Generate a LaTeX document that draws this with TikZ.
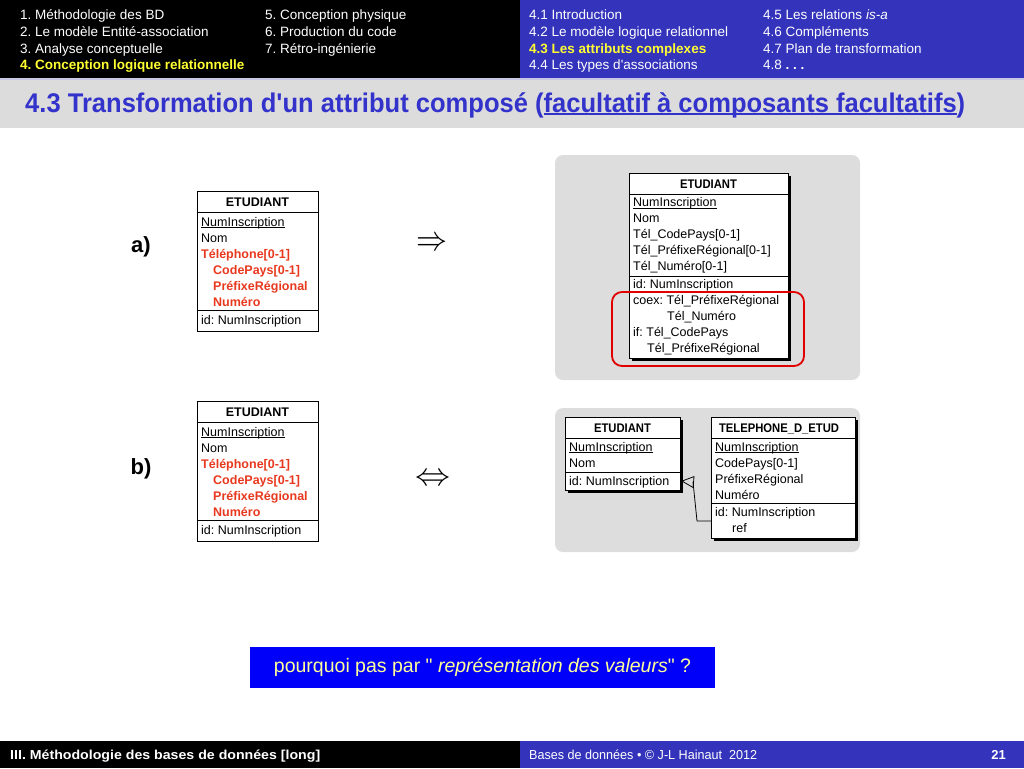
\documentclass[tikz,border=0pt]{standalone}
\usepackage{fontspec}
\setmainfont{Liberation Sans}[Ligatures=TeXOff]
\usepackage{graphicx}
\usetikzlibrary{arrows.meta}
\definecolor{hdrblue}{RGB}{51,51,187}
\definecolor{hiyellow}{RGB}{255,255,51}
\definecolor{sepcol}{RGB}{200,200,228}
\definecolor{titlegray}{RGB}{220,220,220}
\definecolor{titleblue}{RGB}{51,51,204}
\definecolor{panelgray}{RGB}{221,221,221}
\definecolor{attrred}{RGB}{232,56,30}
\definecolor{hlred}{RGB}{225,0,0}
\definecolor{qblue}{RGB}{0,0,250}
\definecolor{qyellow}{RGB}{255,255,153}
\newcommand\myul[1]{\setbox0\hbox{#1}\rlap{\rule[-2pt]{\wd0}{0.6pt}}\box0}
\newcommand\myulb[1]{\setbox0\hbox{#1}\rlap{\rule[-3pt]{\wd0}{1.6pt}}\box0}
\frenchspacing
\begin{document}
\begin{tikzpicture}[x=1pt,y=-1pt,
  hdr/.style={anchor=base west, inner sep=0, text=white, font=\fontsize{13.5}{16}\selectfont},
  hdrsel/.style={hdr, text=hiyellow, font=\fontsize{13.5}{16}\selectfont\bfseries},
  attr/.style={anchor=base west, inner sep=0, font=\fontsize{12.5}{16}\selectfont},
  redattr/.style={attr, text=attrred, font=\fontsize{12.5}{16}\selectfont\bfseries},
  thead/.style={anchor=base, inner sep=0, font=\fontsize{12.5}{16}\selectfont\bfseries},
  tbox/.style={draw=black, line width=1pt, fill=white, anchor=north west, inner sep=0},
  shadowbox/.style={fill=black, anchor=north west, inner sep=0},
  sepline/.style={line width=1pt},
  bigsym/.style={inner sep=0, font=\fontsize{10}{10}\selectfont},
  lbl/.style={inner sep=0, font=\fontsize{22}{24}\selectfont\bfseries},
  foot/.style={anchor=base west, inner sep=0, text=white, font=\fontsize{13}{15}\selectfont}
]
\useasboundingbox (0,0) rectangle (1024,768);
% header
\fill[black] (0,0) rectangle (520,78);
\fill[hdrblue] (520,0) rectangle (1024,78);
\fill[sepcol] (0,78) rectangle (1024,80);
\node[hdr] (h1) at (20,19.5) {1. Méthodologie des BD};
\node[hdr] (h2) at (20,36.5) {2. Le modèle Entité-association};
\node[hdr] (h3) at (20,53) {3. Analyse conceptuelle};
\node[hdrsel] (h4) at (20,70) {4. Conception logique relationnelle};
\node[hdr] (h5) at (265,19.5) {5. Conception physique};
\node[hdr] (h6) at (265,36.5) {6. Production du code};
\node[hdr] (h7) at (265,53) {7. Rétro-ingénierie};
\node[hdr] (s1) at (529,19.5) {4.1 Introduction};
\node[hdr] (s2) at (529,36.5) {4.2 Le modèle logique relationnel};
\node[hdrsel] (s3) at (529,53) {4.3 Les attributs complexes};
\node[hdr] (s4) at (529,70) {4.4 Les types d'associations};
\node[hdr] (s5) at (763,19.5) {4.5 Les relations \textit{is-a}};
\node[hdr] (s6) at (763,36.5) {4.6 Compléments};
\node[hdr] (s7) at (763,53) {4.7 Plan de transformation};
\node[hdr] (s8) at (763,70) {4.8 \textbf{. . .}};
% title
\fill[titlegray] (0,80) rectangle (1024,128);
\node[anchor=base west, inner sep=0, text=titleblue] (title) at (25,112)
  {\resizebox{940pt}{\height}{\fontsize{27}{30}\selectfont\bfseries 4.3 Transformation d'un attribut composé (\myulb{facultatif à composants facultatifs})}};

% ---------- a) left table
\node[lbl] (la) at (141,247) {a)};
\node[tbox, minimum width=121pt, minimum height=140pt] (A) at (197,191) {};
\draw[sepline] (A.west |- 0,212) -- (A.east |- 0,212);
\draw[sepline] (A.west |- 0,310) -- (A.east |- 0,310);
\node[thead] (Ah) at (257.5,206.5) {ETUDIANT};
\node[attr] (Ar1) at (201,226) {\myul{NumInscription}};
\node[attr] (Ar2) at (201,242) {Nom};
\node[redattr] (Ar3) at (201,258) {Téléphone[0-1]};
\node[redattr] (Ar4) at (213,274) {CodePays[0-1]};
\node[redattr] (Ar5) at (213,290) {PréfixeRégional};
\node[redattr] (Ar6) at (213,306) {Numéro};
\node[attr] (Ar7) at (201,324.5) {id: NumInscription};

\node[bigsym] (imp) at (432,244) {\scalebox{3.1}[3.5]{$\Rightarrow$}};

% a) right panel
\fill[panelgray, rounded corners=8pt] (555,155) rectangle (860,380);
\node[shadowbox, minimum width=159pt, minimum height=185pt] (ARs) at (632,176) {};
\node[tbox, minimum width=159pt, minimum height=185pt] (AR) at (629,173) {};
\draw[sepline] (AR.west |- 0,194) -- (AR.east |- 0,194);
\draw[sepline] (AR.west |- 0,276) -- (AR.east |- 0,276);
\node[thead] (ARh) at (708.5,188) {\scalebox{0.9}[1]{ETUDIANT}};
\node[attr] (ARr1) at (633,206.5) {\myul{NumInscription}};
\node[attr] (ARr2) at (633,222.5) {Nom};
\node[attr] (ARr3) at (633,238.5) {Tél\_CodePays[0-1]};
\node[attr] (ARr4) at (633,254.5) {Tél\_PréfixeRégional[0-1]};
\node[attr] (ARr5) at (633,270.5) {Tél\_Numéro[0-1]};
\node[attr] (ARr6) at (633,288.5) {id: NumInscription};
\node[attr] (ARr7) at (633,304) {coex: Tél\_PréfixeRégional};
\node[attr] (ARr8) at (667,320) {Tél\_Numéro};
\node[attr] (ARr9) at (633,336) {if: Tél\_CodePays};
\node[attr] (ARr10) at (647,352) {Tél\_PréfixeRégional};
\draw[hlred, line width=1.8pt, rounded corners=10pt] (612,292) rectangle (804,366);

% ---------- b) left table
\node[lbl] (lb) at (141,469) {b)};
\node[tbox, minimum width=121pt, minimum height=140pt] (B) at (197,401) {};
\draw[sepline] (B.west |- 0,422) -- (B.east |- 0,422);
\draw[sepline] (B.west |- 0,520) -- (B.east |- 0,520);
\node[thead] (Bh) at (257.5,416.5) {ETUDIANT};
\node[attr] (Br1) at (201,436) {\myul{NumInscription}};
\node[attr] (Br2) at (201,452) {Nom};
\node[redattr] (Br3) at (201,468) {Téléphone[0-1]};
\node[redattr] (Br4) at (213,484) {CodePays[0-1]};
\node[redattr] (Br5) at (213,500) {PréfixeRégional};
\node[redattr] (Br6) at (213,516) {Numéro};
\node[attr] (Br7) at (201,534.5) {id: NumInscription};

\node[bigsym] (equ) at (433,480) {\scalebox{3.5}[3.2]{$\Leftrightarrow$}};

% b) right panel
\fill[panelgray, rounded corners=8pt] (555,408) rectangle (860,552);
\node[shadowbox, minimum width=115pt, minimum height=73pt] (BEs) at (568,420) {};
\node[tbox, minimum width=115pt, minimum height=73pt] (BE) at (565,417) {};
\draw[sepline] (BE.west |- 0,438) -- (BE.east |- 0,438);
\draw[sepline] (BE.west |- 0,472) -- (BE.east |- 0,472);
\node[thead] (BEh) at (622.5,432.5) {\scalebox{0.9}[1]{ETUDIANT}};
\node[attr] (BEr1) at (569,451) {\myul{NumInscription}};
\node[attr] (BEr2) at (569,467) {Nom};
\node[attr] (BEr3) at (569,485.5) {id: NumInscription};

\node[shadowbox, minimum width=144pt, minimum height=121pt] (BTs) at (714,420) {};
\node[tbox, minimum width=144pt, minimum height=121pt] (BT) at (711,417) {};
\draw[sepline] (BT.west |- 0,438) -- (BT.east |- 0,438);
\draw[sepline] (BT.west |- 0,503) -- (BT.east |- 0,503);
\node[thead] (BTh) at (779,432.5) {\scalebox{0.9}[1]{TELEPHONE\_D\_ETUD}};
\node[attr] (BTr1) at (715,451) {\myul{NumInscription}};
\node[attr] (BTr2) at (715,467) {CodePays[0-1]};
\node[attr] (BTr3) at (715,483) {PréfixeRégional};
\node[attr] (BTr4) at (715,499) {Numéro};
\node[attr] (BTr5) at (715,516.5) {id: NumInscription};
\node[attr] (BTr6) at (732,532.5) {ref};

% ref connector
\coordinate (refA) at (BT.west |- 0,521);
\coordinate (refM1) at (697,521);
\coordinate (refM2) at (693,482);
\coordinate (refB) at (BE.east |- 0,481);
\draw[line width=0.8pt, -{Triangle[open,length=13pt,width=12pt]}] (refA) -- (refM1) -- (refM2) -- (refB);

% question box
\node[fill=qblue, minimum width=465pt, minimum height=41pt, inner sep=0, text=qyellow,
  font=\fontsize{19.5}{22}\selectfont] (q) at (482.5,667.5)
  {pourquoi pas par " \textit{représentation des valeurs}" ?};

% footer
\fill[black] (0,741) rectangle (520,768);
\fill[hdrblue] (520,741) rectangle (1024,768);
\node[foot] (f1) at (10,759) {\resizebox{310pt}{\height}{\bfseries III. Méthodologie des bases de données [long]}};
\node[foot] (f2) at (529,759) {\resizebox{228pt}{\height}{Bases de données • © J-L Hainaut\ \ 2012}};
\node[foot, anchor=base east] (f3) at (1006,759) {\bfseries 21};
\end{tikzpicture}
\end{document}
